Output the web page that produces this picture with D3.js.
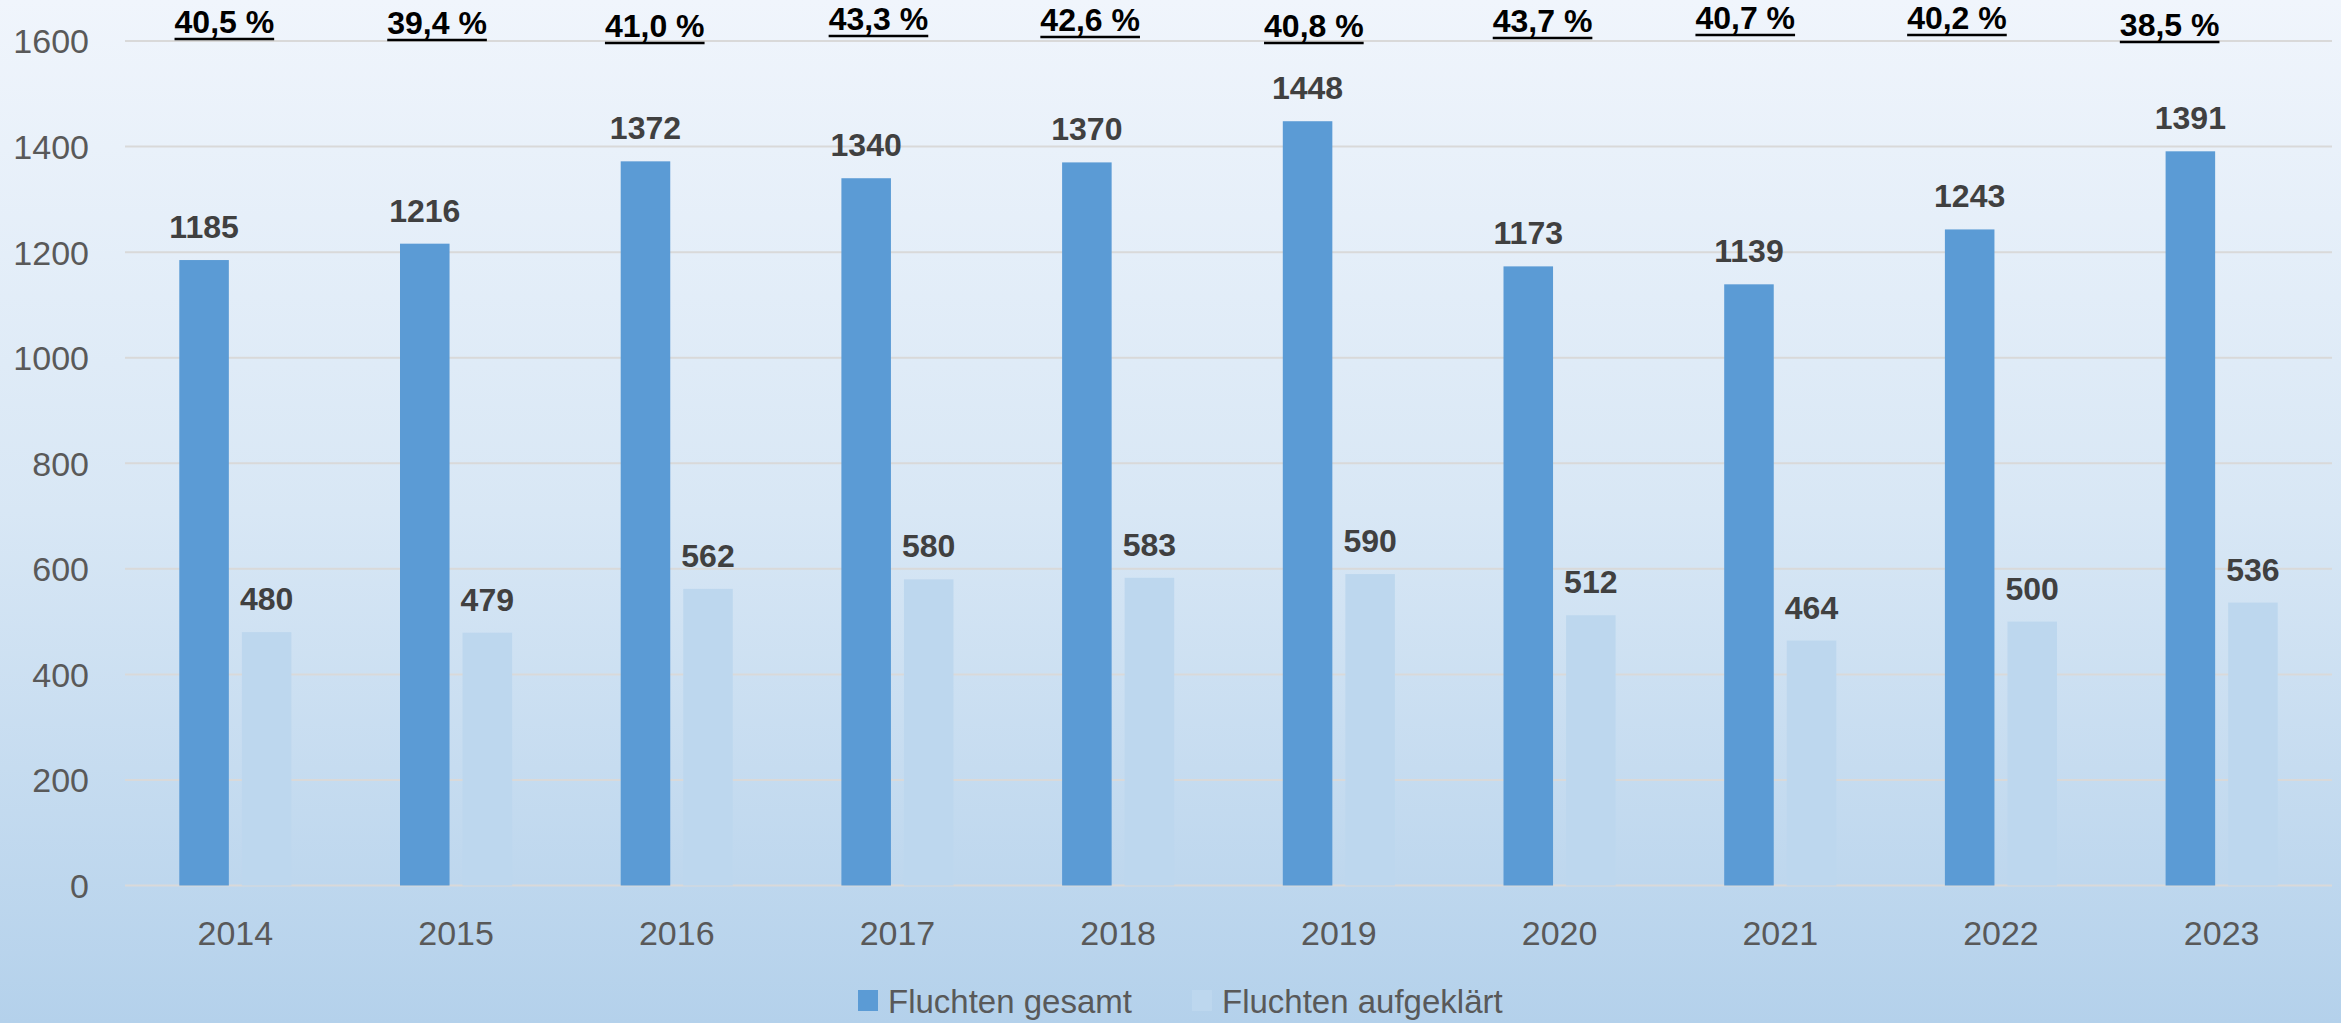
<!DOCTYPE html>
<html><head><meta charset="utf-8">
<script src="https://cdn.jsdelivr.net/npm/d3@7"></script>
<style>html,body{margin:0;padding:0;overflow:hidden;}svg{display:block;}</style>
</head><body>
<svg id="c" width="2341" height="1023"></svg>
<script>
const years = ["2014","2015","2016","2017","2018","2019","2020","2021","2022","2023"];
const gesamt = [1185,1216,1372,1340,1370,1448,1173,1139,1243,1391];
const aufgeklaert = [480,479,562,580,583,590,512,464,500,536];
const quoten = ["40,5 %","39,4 %","41,0 %","43,3 %","42,6 %","40,8 %","43,7 %","40,7 %","40,2 %","38,5 %"];
const seriesNames = ["Fluchten gesamt","Fluchten aufgeklärt"];
const yTicks = [0,200,400,600,800,1000,1200,1400,1600];

// layout-only nudges for the manually placed percentage boxes
const quoteDx = [-11,-19,-22,-19,-28,-25,-17,-35,-44,-52];
const quoteY  = [33,34,37,30,31,37,32,29,29,36];

const W = 2341, H = 1023;
const svg = d3.select("#c");
const defs = svg.append("defs");
const grad = defs.append("linearGradient").attr("id","bg").attr("x1",0).attr("y1",0).attr("x2",0).attr("y2",1);
grad.append("stop").attr("offset","0%").attr("stop-color","#f0f5fc");
grad.append("stop").attr("offset","50%").attr("stop-color","#d8e7f5");
grad.append("stop").attr("offset","100%").attr("stop-color","#b4d1eb");
svg.append("rect").attr("width",W).attr("height",H).attr("fill","url(#bg)");

const colors = ["#5b9bd5","#bdd7ee"];
const x0 = d3.scaleBand().domain(years).range([125,2332]).padding(0);
const x1 = d3.scaleBand().domain(seriesNames).range([54.3, 166.4]).paddingInner(0.208);
const y = d3.scaleLinear().domain([0,1600]).range([885.5,41]);

const font = "'Liberation Sans', Arial, sans-serif";

// gridlines
svg.append("g").selectAll("line").data(yTicks).join("line")
  .attr("x1",125).attr("x2",2332)
  .attr("y1",d=>y(d)).attr("y2",d=>y(d))
  .attr("stroke","#d9d9d9").attr("stroke-width",2);

// y axis labels
const yAxis = d3.axisLeft(y).tickValues(yTicks).tickFormat(d3.format("d")).tickSize(0).tickPadding(0);
const gy = svg.append("g").attr("transform","translate(89,0)").call(yAxis);
gy.select(".domain").remove();
gy.selectAll("text").attr("font-family",font).attr("font-size",34).attr("fill","#595959").attr("dy","0.35em");

// x axis labels
const xAxis = d3.axisBottom(x0).tickSize(0).tickPadding(0);
const gx = svg.append("g").attr("transform","translate(0,945)").call(xAxis);
gx.select(".domain").remove();
gx.selectAll("text").attr("font-family",font).attr("font-size",34).attr("fill","#595959").attr("dy",0);

const rows = years.map((yr,i)=>({yr, vals:[gesamt[i], aufgeklaert[i]]}));
const groups = svg.append("g").selectAll("g").data(rows).join("g")
  .attr("transform",d=>`translate(${x0(d.yr)},0)`);
groups.selectAll("rect").data(d=>d.vals.map((v,k)=>({v,k}))).join("rect")
  .attr("x",d=>x1(seriesNames[d.k])).attr("width",x1.bandwidth())
  .attr("y",d=>y(d.v)).attr("height",d=>y(0)-y(d.v))
  .attr("fill",d=>colors[d.k]);
groups.selectAll("text").data(d=>d.vals.map((v,k)=>({v,k}))).join("text")
  .attr("x",d=>x1(seriesNames[d.k])+x1.bandwidth()/2)
  .attr("y",d=>y(d.v)-22)
  .attr("text-anchor","middle").attr("font-family",font).attr("font-weight","bold")
  .attr("font-size",32).attr("fill","#404040").text(d=>d.v);

// percentage labels
const qg = svg.append("g");
quoten.forEach((q,i)=>{
  const cx = x0(years[i]) + x0.bandwidth()/2 + quoteDx[i];
  const t = qg.append("text").attr("x",cx).attr("y",quoteY[i])
    .attr("text-anchor","middle").attr("font-family",font).attr("font-weight","bold")
    .attr("font-size",32).attr("fill","#000").text(q);
  const w = t.node().getComputedTextLength();
  qg.append("line").attr("x1",cx-w/2).attr("x2",cx+w/2)
    .attr("y1",quoteY[i]+6).attr("y2",quoteY[i]+6)
    .attr("stroke","#000").attr("stroke-width",2.5);
});

// legend
const leg = svg.append("g");
const legX = [858, 1192];
seriesNames.forEach((s,k)=>{
  leg.append("rect").attr("x",legX[k]).attr("y",990).attr("width",20).attr("height",21).attr("fill",colors[k]);
  leg.append("text").attr("x",legX[k]+30).attr("y",1013).attr("font-family",font)
    .attr("font-size",33).attr("fill","#595959").text(s);
});
</script>
</body></html>
